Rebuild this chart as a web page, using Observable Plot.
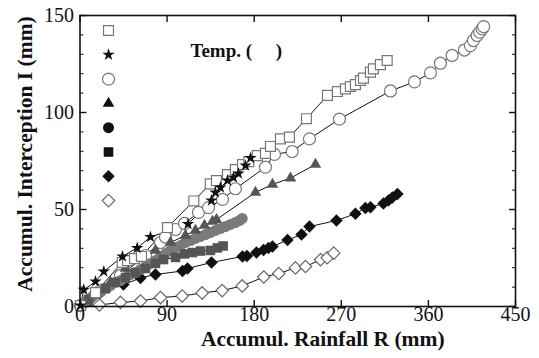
<!DOCTYPE html>
<html><head><meta charset="utf-8">
<script src="https://cdn.jsdelivr.net/npm/d3@7"></script>
<script src="https://cdn.jsdelivr.net/npm/@observablehq/plot@0.6"></script>
<style>body{margin:0;background:#fff}</style>
</head><body><div id="chart"></div>
<script>
// ---- tick labels / titles ----
const xTicks = [0, 90, 180, 270, 360, 450];
const yTicks = [0, 50, 100, 150];
const yMinorTicks = [10, 20, 30, 40, 60, 70, 80, 90, 110, 120, 130, 140];
const xTitle = "Accumul. Rainfall R (mm)";
const yTitle = "Accumul. Interception I (mm)";
const legendTitle = "Temp. (\u00a0\u00a0\u00a0\u00a0\u00a0)";

// ---- series values (R = accumulated rainfall, I = accumulated interception) ----
const openSquareR = [0.5, 16, 43.6, 49.1, 56.3, 63.5, 90.4, 117.6, 134.6, 141, 152.4, 160.6, 167.9, 174.4, 183.3, 191.6, 196.8, 207.1, 216.4, 234, 255.7, 266, 274.3, 279.4, 284.6, 289.8, 292.9, 300.1, 303.2, 310.4, 317.4];
const openSquareI = [0.5, 7.2, 22.7, 23.7, 24.7, 25.8, 40.7, 54.4, 63.2, 64.9, 68, 70.6, 73.2, 74.7, 77.8, 78.9, 82.5, 86.4, 87.3, 96.8, 108.8, 110.8, 112.2, 113.4, 114.4, 116.5, 117.7, 120.8, 122.5, 124.7, 126.8];

const starR = [0.5, 3.9, 16, 24.6, 43.9, 59.1, 72.8, 111.6, 135.8, 139.9, 145.1, 152.4, 158.6, 163.7, 171, 176.2];
const starI = [0.5, 8.6, 12.9, 18, 25.8, 30.2, 35.8, 42.5, 54.6, 58.8, 61.3, 64.9, 66.5, 68.6, 72.7, 76.5];

const openCircleR = [0.5, 21.2, 41.8, 67.7, 83.2, 88.3, 98.7, 108, 122.4, 132.8, 147.2, 160.6, 191.6, 200.9, 219.2, 237.1, 268.1, 320.8, 345.6, 362.1, 372.4, 384.5, 397.2, 403.4, 406.5, 410.3, 413, 415.5, 417.1];
const openCircleI = [0.5, 8.2, 16, 26.3, 33, 35.8, 39.7, 42.8, 48.5, 51, 55.2, 60.7, 71.8, 78.4, 79.9, 86.4, 96.6, 111.1, 115.8, 120.4, 125.4, 129.4, 132.2, 134.5, 137.1, 139.7, 141.4, 143.1, 144.3];

const triangleR = [0.5, 16, 31.5, 47, 62.5, 78, 93.5, 109, 119.3, 128.6, 136.9, 141, 181.3, 198.9, 217.5, 243.3];
const triangleI = [0.5, 6.2, 12.4, 19.6, 24.7, 28.9, 33, 36.6, 39.2, 41.8, 43.8, 44.8, 58.8, 62.9, 66.2, 73.2];

const dotR = [0.5, 4.6, 8.8, 12.9, 17, 21.2, 26.3, 31.5, 36.7, 41.8, 47, 52.2, 57.3, 62.5, 67.7, 72.8, 78, 83.2, 88.3, 93.5, 98.7, 103.8, 109, 114.2, 119.3, 124.5, 129.6, 134.8, 140, 145.1, 150.3, 155.5, 160.6, 164.8, 167.6];
const dotI = [0.5, 2.1, 3.6, 5.2, 6.7, 7.7, 9.3, 10.8, 12.4, 13.4, 14.9, 16.5, 17.5, 19.1, 20.6, 22.2, 23.7, 25.8, 27.3, 28.9, 30.4, 31.4, 33, 34, 35.1, 36.1, 37.1, 38.1, 39.2, 40.2, 41.2, 42.3, 43.3, 44.3, 45.4];

const filledSquareR = [0.5, 8.8, 17, 26.3, 36.7, 47, 57.3, 67.7, 78, 86.3, 98.7, 108, 116.2, 124.5, 134.8, 142, 147.9];
const filledSquareI = [0.5, 3.6, 6.7, 9.3, 12.4, 14.9, 17.5, 19.6, 22.2, 24.2, 25.3, 27.1, 27.8, 28.6, 28.9, 30.2, 31.2];

const filledDiamondR = [0.5, 10.8, 21.2, 29.4, 44.9, 62.5, 78, 105.9, 111.1, 135.9, 167.9, 172.5, 182.3, 189.6, 194.7, 198.9, 214.4, 228.9, 237.1, 265, 284.6, 294.9, 300.1, 313.5, 318.7, 322.8, 328];
const filledDiamondI = [0.5, 3.6, 7.2, 9.8, 11.3, 14.7, 16.5, 18.3, 19.6, 22.7, 25.8, 26, 27.8, 29.1, 30.2, 30.9, 34.3, 37.1, 41.2, 44.3, 47.8, 50.8, 51.2, 53.1, 54.6, 56.2, 58];

const openDiamondR = [0.5, 20.1, 41.8, 62.5, 83.2, 105.6, 126.2, 146.9, 167.6, 189.9, 205.4, 222.6, 233, 248.5, 255.4, 262.2];
const openDiamondI = [0.5, 0.8, 2.1, 2.8, 4.6, 5.4, 7, 8.2, 10.6, 15.2, 17, 19.9, 20.6, 24.1, 25.1, 27.5];

// ---- tables built from the arrays ----
const pts = (xs, ys) => xs.map((x, i) => ({R: x, I: ys[i]}));

// legend order (top to bottom) and drawing style
const series = [
  {data: pts(openSquareR, openSquareI), symbol: "square", r: 5.6, fill: "white", stroke: "#777", lfill: "white", lstroke: "#777"},
  {data: pts(starR, starI), symbol: "star", r: 3.9, fill: "#111", stroke: "none", lfill: "#111", lstroke: "none"},
  {data: pts(openCircleR, openCircleI), symbol: "circle", r: 6, fill: "white", stroke: "#777", lfill: "white", lstroke: "#777"},
  {data: pts(triangleR, triangleI), symbol: "triangle", r: 4.3, fill: "#555", stroke: "none", lfill: "#111", lstroke: "none"},
  {data: pts(dotR, dotI), symbol: "circle", r: 5.5, fill: "#7a7a7a", stroke: "none", lfill: "#111", lstroke: "none"},
  {data: pts(filledSquareR, filledSquareI), symbol: "square", r: 5.4, fill: "#555", stroke: "none", lfill: "#111", lstroke: "none"},
  {data: pts(filledDiamondR, filledDiamondI), symbol: "diamond2", r: 5.6, fill: "#111", stroke: "none", lfill: "#111", lstroke: "none"},
  {data: pts(openDiamondR, openDiamondI), symbol: "diamond2", r: 5.6, fill: "white", stroke: "#666", lfill: "white", lstroke: "#666"}
];
const drawOrder = [7, 6, 2, 4, 5, 3, 0, 1];

const font = "Liberation Serif, Times New Roman, serif";
const marks = [];
for (const i of drawOrder) {
  const s = series[i];
  marks.push(Plot.line(s.data, {x: "R", y: "I", stroke: "#111", strokeWidth: 1}));
}
for (const i of drawOrder) {
  const s = series[i];
  marks.push(Plot.dot(s.data, {x: "R", y: "I", symbol: () => s.symbol, r: s.r, fill: s.fill, stroke: s.stroke, strokeWidth: 1.2}));
}
// legend symbols
series.forEach((s, i) => {
  marks.push(Plot.dot([i], {frameAnchor: "top-left", dx: 28.5, dy: 15 + i * 24.3, symbol: () => s.symbol, r: s.r, fill: s.lfill, stroke: s.lstroke, strokeWidth: 1.2}));
});
marks.push(Plot.text([legendTitle], {text: d => d, frameAnchor: "top-left", dx: 110.5, dy: 28, textAnchor: "start", fontWeight: "bold", fontSize: 19, fontFamily: font, fill: "#111"}));

// axes: inward ticks + labels
const tickOpts = {tickFormat: () => "", label: null, stroke: "#111", strokeWidth: 1.4};
marks.push(
  Plot.axisX(xTicks, {anchor: "bottom", tickSize: -6, ...tickOpts}),
  Plot.axisX(xTicks, {anchor: "top", tickSize: -6, ...tickOpts}),
  Plot.axisY(yTicks, {anchor: "left", tickSize: -7, ...tickOpts}),
  Plot.axisY(yTicks, {anchor: "right", tickSize: -7, ...tickOpts}),
  Plot.axisY(yMinorTicks, {anchor: "left", tickSize: -4, ...tickOpts, strokeWidth: 1}),
  Plot.axisY(yMinorTicks, {anchor: "right", tickSize: -4, ...tickOpts, strokeWidth: 1}),
  Plot.axisX(xTicks, {anchor: "bottom", tickSize: 0, tickPadding: 0, label: null, fontSize: 20, fontFamily: font, fill: "#111"}),
  Plot.axisY(yTicks, {anchor: "left", tickSize: 0, tickPadding: 6, label: null, fontSize: 20, fontFamily: font, fill: "#111"}),
  Plot.frame({stroke: "#111", strokeWidth: 1.6}),
  Plot.text([xTitle], {text: d => d, frameAnchor: "bottom", dx: 25, dy: 39, fontWeight: "bold", fontSize: 21.5, fontFamily: font, fill: "#111"}),
  Plot.text([yTitle], {text: d => d, frameAnchor: "left", textAnchor: "middle", rotate: -90, dx: -55, dy: -7, fontWeight: "bold", fontSize: 21.5, fontFamily: font, fill: "#111"})
);

const chart = Plot.plot({
  width: 539,
  height: 358,
  marginLeft: 79.5,
  marginRight: 24,
  marginTop: 15,
  marginBottom: 52,
  x: {domain: [0, 450]},
  y: {domain: [0, 150]},
  style: {fontFamily: font, background: "white", overflow: "visible"},
  marks
});
document.getElementById("chart").appendChild(chart);
</script>
</body></html>
